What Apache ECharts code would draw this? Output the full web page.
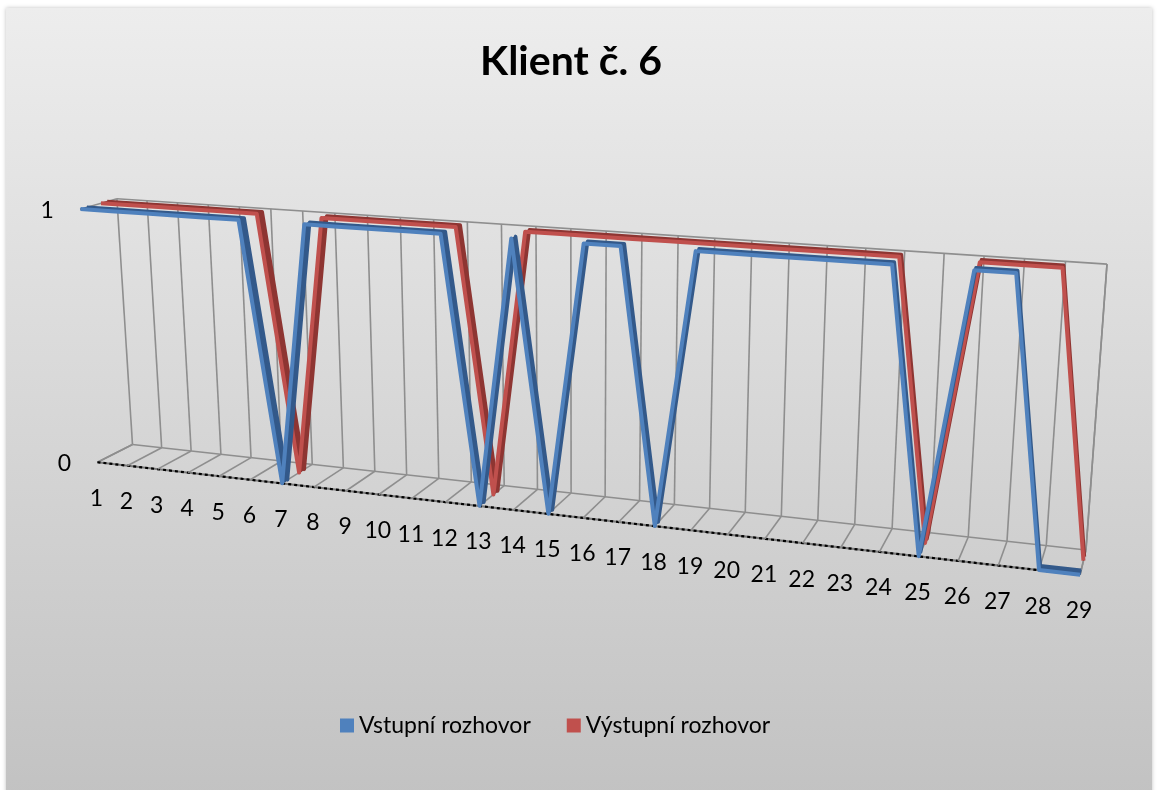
<!DOCTYPE html>
<html>
<head>
<meta charset="utf-8">
<script src="https://cdn.jsdelivr.net/npm/echarts@6/dist/echarts.min.js"></script>
<style>
  html, body { margin: 0; padding: 0; background: #fff; }
  #chart { width: 1157px; height: 790px; }
</style>
</head>
<body>
<div id="chart"></div>
<script>
// ---- data ----
const categories = ['1','2','3','4','5','6','7','8','9','10','11','12','13','14','15','16','17','18','19','20','21','22','23','24','25','26','27','28','29'];
const vstupni  = [1,1,1,1,1,1,0,1,1,1,1,1,0,1,0,1,1,0,1,1,1,1,1,1,0,1,1,0,0];
const vystupni = [1,1,1,1,1,1,0,1,1,1,1,1,0,1,1,1,1,1,1,1,1,1,1,1,0,1,1,1,0];
const valueTicks = [0, 1];
const seriesNames = ['Vstupní rozhovor', 'Výstupní rozhovor'];

// ---- 3D box layout: normalised (category, value, depth) -> screen px ----
const boxAnchors = [
  [0, 0, 0, 97, 462], [1, 0, 0, 1080, 575],
  [0, 0, 1, 132, 444], [1, 0, 1, 1086, 550],
  [0, 1, 1, 117, 199], [1, 1, 1, 1107, 264],
  [0, 1, 0, 80, 209],
  [1 / 28, 0, 0, 128, 466], [1 / 28, 0, 1, 162, 448]
];

// least-squares perspective camera (3x4, last entry fixed to 1)
function fitCamera(anchors) {
  const N = 11;
  const M = Array.from({ length: N }, () => new Array(N).fill(0));
  const r = new Array(N).fill(0);
  const addRow = (row, t) => {
    for (let i = 0; i < N; i++) {
      for (let j = 0; j < N; j++) M[i][j] += row[i] * row[j];
      r[i] += row[i] * t;
    }
  };
  anchors.forEach(([x, y, z, u, v]) => {
    addRow([x, y, z, 1, 0, 0, 0, 0, -u * x, -u * y, -u * z], u);
    addRow([0, 0, 0, 0, x, y, z, 1, -v * x, -v * y, -v * z], v);
  });
  for (let c = 0; c < N; c++) {
    let piv = c;
    for (let i = c + 1; i < N; i++) if (Math.abs(M[i][c]) > Math.abs(M[piv][c])) piv = i;
    [M[c], M[piv]] = [M[piv], M[c]];
    [r[c], r[piv]] = [r[piv], r[c]];
    for (let i = 0; i < N; i++) {
      if (i === c) continue;
      const f = M[i][c] / M[c][c];
      for (let j = c; j < N; j++) M[i][j] -= f * M[c][j];
      r[i] -= f * r[c];
    }
  }
  return r.map((v, i) => v / M[i][i]);
}
const cam = fitCamera(boxAnchors);
function project(a, b, c) {
  const w = cam[8] * a + cam[9] * b + cam[10] * c + 1;
  return [
    (cam[0] * a + cam[1] * b + cam[2] * c + cam[3]) / w,
    (cam[4] * a + cam[5] * b + cam[6] * c + cam[7]) / w
  ];
}
// axis point -> normalised position inside the hidden cartesian grid
function norm(api, cs, cat, val) {
  const pt = api.coord([cat, val]);
  return [(pt[0] - cs.x) / cs.width, (cs.y + cs.height - pt[1]) / cs.height];
}

const GRID = '#8e8e8e';
const FONT = 'Lato, "Open Sans", sans-serif';

function line(p, q, stroke, width, dash) {
  return {
    type: 'line',
    shape: { x1: p[0], y1: p[1], x2: q[0], y2: q[1] },
    style: { stroke: stroke, lineWidth: width, lineDash: dash || null },
    silent: true
  };
}
function text(p, str, align, size) {
  return {
    type: 'text',
    x: p[0], y: p[1],
    style: { text: str, align: align, verticalAlign: 'middle', font: size + 'px ' + FONT, fill: '#000' },
    silent: true
  };
}

// walls, floor, gridlines and axis labels
function frameItem(params, api) {
  const cs = params.coordSys;
  const i = api.value(0);
  const [a] = norm(api, cs, i, 0);
  const kids = [];
  // back-wall vertical gridline and floor line for this category
  kids.push(line(project(a, 0, 1), project(a, 1, 1), GRID, 1.6));
  kids.push(line(project(a, 0, 0), project(a, 0, 1), GRID, 1.6));
  const f = project(a, 0, 0);
  kids.push(text([f[0] - 1, f[1] + 36], categories[i], 'center', 23));
  if (params.dataIndexInside === 0) {
    const last = categories.length - 1;
    const [a1] = norm(api, cs, last, 0);
    const [, top] = norm(api, cs, 0, valueTicks[valueTicks.length - 1]);
    const [, bot] = norm(api, cs, 0, valueTicks[0]);
    kids.push(line(project(0, bot, 1), project(a1, bot, 1), GRID, 1.6));
    kids.push(line(project(0, top, 1), project(a1, top, 1), GRID, 1.6));
    kids.push(line(project(0, top, 0), project(0, top, 1), GRID, 1.6));
    kids.push(line(project(0, bot, 0), project(0, bot, 1), GRID, 1.6));
    kids.push(line(project(a1, bot, 1), project(a1, top, 1), GRID, 1.6));
    kids.push(line(project(a1, bot, 0), project(a1, bot, 1), GRID, 1.6));
    // category axis along the front edge
    kids.push(line(project(0, bot, 0), project(a1, bot, 0), '#7a7a7a', 2.2));
    kids.push(line(project(0, bot, 0), project(a1, bot, 0), '#000', 2.2, [3, 3]));
    valueTicks.forEach(t => {
      const [, b] = norm(api, cs, 0, t);
      const p = project(0, b, 0);
      kids.push(text([p[0] - 33, p[1] + 1], String(t), 'center', 23));
    });
  }
  return { type: 'group', children: kids };
}

// one series drawn as a 3D ribbon between two depths
function ribbon(values, zf, zb, light, dark) {
  return function (params, api) {
    if (params.dataIndexInside !== 0) return null;
    const cs = params.coordSys;
    const front = [], back = [];
    for (let k = 0; k < values.length; k++) {
      const [a, b] = norm(api, cs, k, values[k]);
      front.push(project(a, b, zf));
      back.push(project(a, b, zb));
    }
    const kids = [];
    for (let k = 0; k < values.length - 1; k++) {
      kids.push({
        type: 'polygon',
        shape: { points: [front[k], front[k + 1], back[k + 1], back[k]] },
        style: { fill: dark, stroke: dark, lineWidth: 1 },
        silent: true
      });
    }
    kids.push({ type: 'polyline', shape: { points: back },
      style: { stroke: dark, lineWidth: 3.5, fill: null, lineJoin: 'round' }, silent: true });
    kids.push({ type: 'polyline', shape: { points: front },
      style: { stroke: light, lineWidth: 4, fill: null, lineJoin: 'round' }, silent: true });
    return { type: 'group', children: kids };
  };
}

const chart = echarts.init(document.getElementById('chart'), null, { renderer: 'canvas' });
chart.setOption({
  backgroundColor: '#ffffff',
  animation: false,
  graphic: [{
    type: 'rect',
    z: -10,
    shape: { x: 6, y: 8, width: 1146, height: 790 },
    style: {
      fill: new echarts.graphic.LinearGradient(0, 0, 0, 1, [
        { offset: 0, color: '#ededed' },
        { offset: 1, color: '#c2c2c2' }
      ]),
      shadowBlur: 4, shadowColor: 'rgba(0,0,0,0.25)'
    },
    silent: true
  }],
  title: {
    text: 'Klient č. 6',
    left: 566,
    top: 36,
    textAlign: 'center',
    textStyle: { fontFamily: FONT, fontWeight: 'bold', fontSize: 41, color: '#000' }
  },
  legend: {
    data: seriesNames,
    left: 335,
    top: 709,
    icon: 'rect',
    itemWidth: 14,
    itemHeight: 14,
    itemGap: 36,
    textStyle: { fontFamily: FONT, fontSize: 23, color: '#000' }
  },
  grid: { left: 0, top: 0, width: 100, height: 100, show: false },
  xAxis: { type: 'category', data: categories, boundaryGap: false, show: false },
  yAxis: { type: 'value', min: valueTicks[0], max: valueTicks[valueTicks.length - 1], show: false },
  series: [
    {
      name: seriesNames[0],
      type: 'custom',
      z: 4,
      silent: true,
      itemStyle: { color: '#4f81bd' },
      renderItem: ribbon(vstupni, 0.01, 0.18, '#4f81bd', '#33598a'),
      data: vstupni.map((v, i) => [i, v])
    },
    {
      name: seriesNames[1],
      type: 'custom',
      z: 3,
      silent: true,
      itemStyle: { color: '#c0504d' },
      renderItem: ribbon(vystupni, 0.56, 0.73, '#c0504d', '#8e3532'),
      data: vystupni.map((v, i) => [i, v])
    },
    {
      type: 'custom',
      z: 1,
      silent: true,
      renderItem: frameItem,
      data: categories.map((c, i) => [i, 0])
    }
  ]
});
</script>
</body>
</html>
